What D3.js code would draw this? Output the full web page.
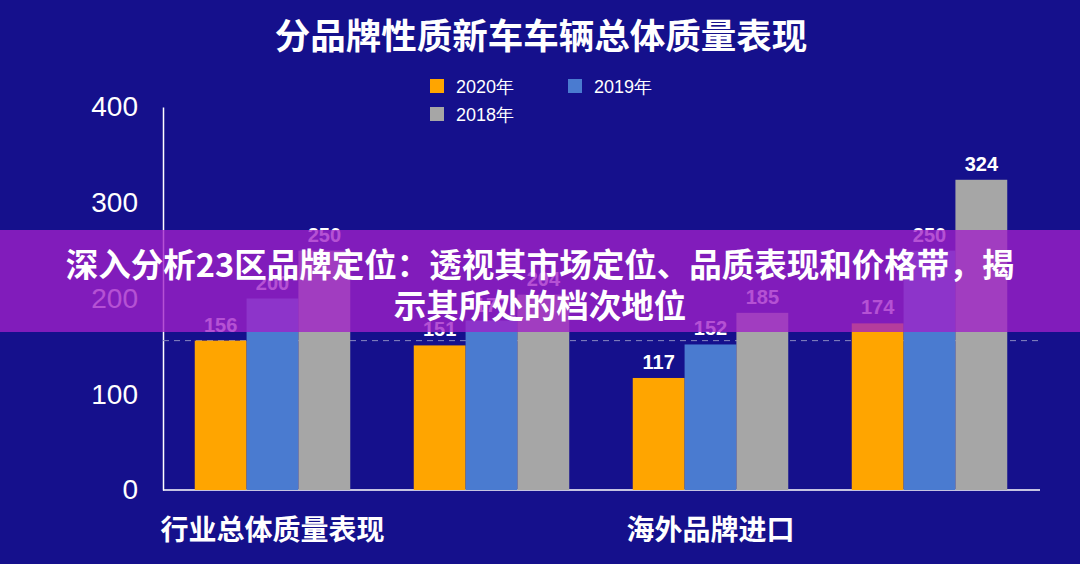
<!DOCTYPE html>
<html><head><meta charset="utf-8">
<script src="https://cdn.jsdelivr.net/npm/d3@7"></script>
<style>body{margin:0;background:#15108c;font-family:"Noto Sans CJK SC","Noto Sans",sans-serif;}</style>
</head><body>
<svg width="1080" height="564"></svg>
<script>
const categories = ["行业总体质量表现", "", "海外品牌进口", ""];
const series = ["2020年", "2019年", "2018年"];
const colors = ["#ffa500", "#4a7bd0", "#a6a6a6"];
const v2020 = [156, 151, 117, 174];
const v2019 = [200, 177, 152, 250];
const v2018 = [250, 204, 185, 324];
const yTicks = [0, 100, 200, 300, 400];
const refLine = 156;

const svg = d3.select("svg");
const x = d3.scaleBand().domain(d3.range(4)).range([163, 1039]).paddingInner(0.29).paddingOuter(0.145);
const xs = d3.scaleBand().domain(series).range([0, x.bandwidth()]);
const y = d3.scaleLinear().domain([0, 400]).range([490, 107]);

svg.append("text").attr("x", 541).attr("y", 49).attr("text-anchor", "middle")
  .attr("fill", "#fff").attr("font-size", 35.5).attr("font-weight", 700).text("分品牌性质新车车辆总体质量表现");

// legend
const leg = [[430, 87], [568, 87], [430, 115]];
series.forEach((s, i) => {
  const g = svg.append("g").attr("transform", `translate(${leg[i][0]},${leg[i][1]})`);
  g.append("rect").attr("x", 0).attr("y", -8).attr("width", 14).attr("height", 14).attr("fill", colors[i]);
  g.append("text").attr("x", 26).attr("y", 6).attr("fill", "#fff").attr("font-size", 18).attr("font-family", "Liberation Sans, Arial").text(s);
});

// y axis
const ya = svg.append("g").attr("transform", "translate(163,0)")
  .call(d3.axisLeft(y).tickValues(yTicks).tickSize(0).tickPadding(25));
ya.select(".domain").attr("stroke", "#fff").attr("stroke-width", 1.5);
ya.selectAll("text").attr("fill", "#fff").attr("font-size", 28).attr("font-family", "Liberation Sans, Arial");

// x axis
svg.append("line").attr("x1", 163).attr("x2", 1040).attr("y1", 490).attr("y2", 490).attr("stroke", "#fff").attr("stroke-width", 1.5);
categories.forEach((c, i) => {
  svg.append("text").attr("x", x(i) + x.bandwidth() / 2).attr("y", 540).attr("text-anchor", "middle")
    .attr("fill", "#fff").attr("font-size", 28).attr("font-weight", 700).text(c);
});

// dashed reference
svg.append("line").attr("x1", 163).attr("x2", 1040).attr("y1", y(refLine)).attr("y2", y(refLine))
  .attr("stroke", "#8a88c0").attr("stroke-dasharray", "6,5").attr("stroke-width", 1);

const data = [v2020, v2019, v2018];
categories.forEach((c, i) => {
  data.forEach((arr, k) => {
    const bx = x(i) + xs(series[k]);
    svg.append("rect").attr("x", bx).attr("y", y(arr[i])).attr("width", xs.bandwidth()).attr("height", y(0) - y(arr[i])).attr("fill", colors[k]);
    svg.append("text").attr("x", bx + xs.bandwidth() / 2).attr("y", y(arr[i]) - 9).attr("text-anchor", "middle")
      .attr("fill", "#fff").attr("font-size", 20).attr("font-weight", 700).attr("font-family", "Liberation Sans, Arial").text(arr[i]);
  });
});

// overlay banner
svg.append("rect").attr("x", 0).attr("y", 230).attr("width", 1080).attr("height", 102).attr("fill", "#a020c8").attr("opacity", 0.78);
svg.append("text").attr("x", 540).attr("y", 277).attr("text-anchor", "middle").attr("fill", "#fff").attr("font-size", 32.5).attr("font-weight", 700)
  .text("深入分析23区品牌定位：透视其市场定位、品质表现和价格带，揭");
svg.append("text").attr("x", 540).attr("y", 318).attr("text-anchor", "middle").attr("fill", "#fff").attr("font-size", 32.5).attr("font-weight", 700)
  .text("示其所处的档次地位");
</script>
</body></html>
